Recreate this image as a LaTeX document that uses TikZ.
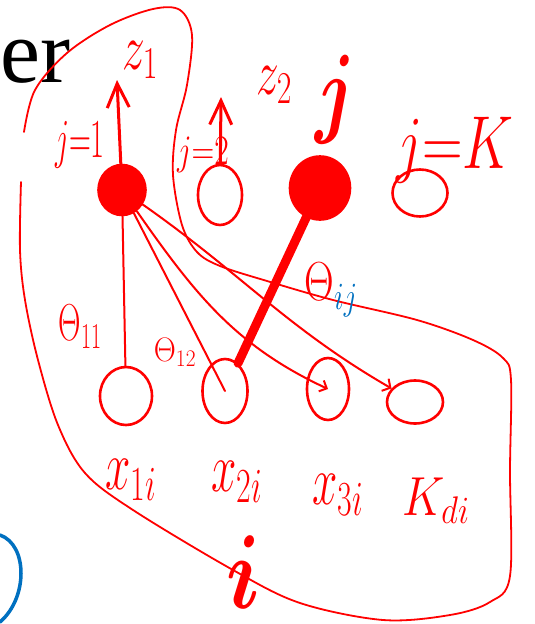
\RequirePackage{fix-cm}
\documentclass[tikz,border=0pt]{standalone}
\usepackage{amsmath,bm}
\usepackage{graphicx}
\usepackage{fontspec}
\newfontfamily\slidefont{Liberation Serif}
\usepackage{tikz}
\usetikzlibrary{arrows.meta,shapes.geometric}
\definecolor{penred}{RGB}{255,0,0}
\definecolor{penblue}{RGB}{0,112,192}
\newcommand{\narrow}[2]{\scalebox{#1}[1]{#2}}
\newcommand{\inksize}[1]{\fontsize{#1}{#1}\selectfont}

\begin{document}
\begin{tikzpicture}[x=1pt,y=-1pt,>={Straight Barb[length=24pt,width=22pt]},
  pen/.style={penred,line width=2pt,line cap=round},
  unit/.style={ellipse,draw=penred,line width=2.6pt,inner sep=0pt},
  hot/.style={unit,fill=penred},
  lbl/.style={text=penred,inner sep=0pt}]
\useasboundingbox (0,0) rectangle (535,624);

% Slide text under the ink
\node[anchor=base west,inner sep=0pt,font=\slidefont\inksize{90}] (slide) at (0,82) {er};

% Lasso round the picture
\draw[pen,line width=1.8pt] plot[smooth,tension=0.55] coordinates {(24,132) (35,90) (67,53) (110,25) (153,9) (180,10) (192,35) (187,85) (176,130) (173,175) (182,225) (197,252) (220,266) (267,281) (333,300) (417,320) (473,340) (503,358) (511,380) (510,470) (510,576) (490,602) (450,615) (383,620) (300,603) (233,570) (133,510) (85,473) (58,425) (38,360) (25,300) (20,250) (21,182)};

% Blue stroke at the left
\draw[penblue,line width=3.5pt,line cap=round] (0,535) .. controls (28,545) and (28,598) .. (0,622);

% Hidden units j
\node[hot,minimum width=47,minimum height=50] (t1) at (122,190) {};
\node[unit,minimum width=44,minimum height=60] (t2) at (220,195) {};
\node[hot,minimum width=60,minimum height=63] (t3) at (320,188) {};
\node[unit,minimum width=55,minimum height=47] (tK) at (420,193) {};

% Inputs x
\node[unit,minimum width=52,minimum height=58] (b1) at (126,396) {};
\node[unit,minimum width=45,minimum height=64] (b2) at (225,391) {};
\node[unit,minimum width=42,minimum height=62] (b3) at (328,389) {};
\node[unit,minimum width=56,minimum height=43] (b4) at (415,402) {};

% Outputs z
\coordinate (z1tip) at (117,80);
\coordinate (z2tip) at (221,97);
\draw[pen,line width=3pt,->] (t1) -- (z1tip);
\draw[pen,line width=3pt,->] (t2) -- (z2tip);

% Weights
\draw[pen] (t1) -- (b1);
\draw[pen] (t1) -- (b2.center);
\draw[pen,-{Straight Barb[length=6pt,width=12pt]}] (t1) to[out=-55,in=155] (b3.center);
\draw[pen,-{Straight Barb[length=6pt,width=14pt]}] (t1) to[out=-35,in=150] (b4);
\draw[penred,line width=9pt,line cap=round] (t3.center) -- (b2);

% Labels
\node[lbl,font=\inksize{65}] (z1) at (140,60) {\narrow{0.7}{$z_1$}};
\node[lbl,font=\inksize{65}] (z2) at (274,85) {\narrow{0.7}{$z_2$}};
\node[lbl,font=\inksize{100}] (jtop) at (335,100) {\narrow{0.75}{$\bm{j}$}};
\node[lbl,font=\inksize{55}] (j1) at (80,145) {\narrow{0.55}{$j{=}1$}};
\node[lbl,font=\inksize{42}] (j2) at (203,155) {\narrow{0.75}{$j{=}2$}};
\node[lbl,font=\inksize{75}] (jK) at (455,150) {\narrow{0.75}{$j{=}K$}};
\node[lbl,font=\inksize{52}] (th11) at (80,327) {\narrow{0.6}{$\Theta_{11}$}};
\node[lbl,font=\inksize{34}] (th12) at (175,352) {\narrow{0.9}{$\Theta_{12}$}};
\node[lbl,font=\inksize{55}] (thij) at (331,290) {\narrow{0.75}{$\Theta_{\color{penblue}ij}$}};
\node[lbl,font=\inksize{70}] (x1) at (131,480) {\narrow{0.65}{$x_{1i}$}};
\node[lbl,font=\inksize{70}] (x2) at (237,482) {\narrow{0.65}{$x_{2i}$}};
\node[lbl,font=\inksize{70}] (x3) at (338,495) {\narrow{0.65}{$x_{3i}$}};
\node[lbl,font=\inksize{55}] (kd) at (436,501) {\narrow{0.85}{$K_{di}$}};
\node[lbl,font=\inksize{105}] (ibig) at (243,572) {\narrow{0.8}{$\bm{i}$}};
\end{tikzpicture}
\end{document}
